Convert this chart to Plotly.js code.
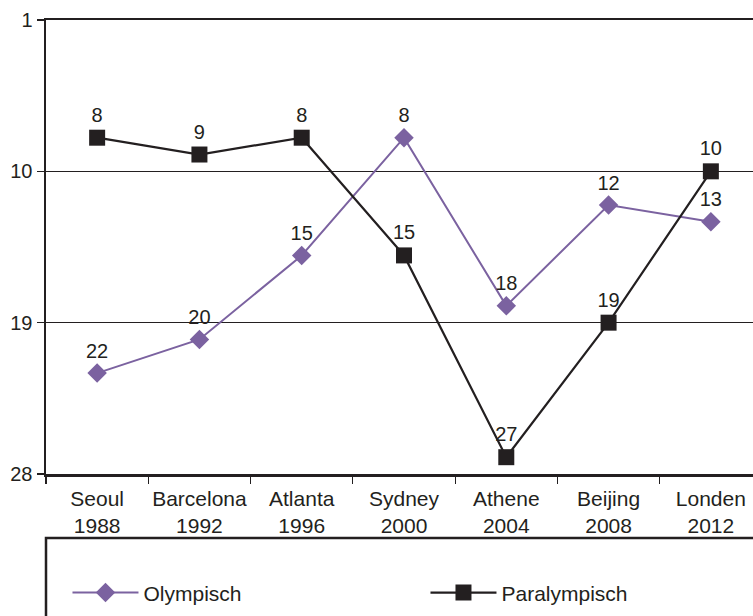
<!DOCTYPE html>
<html>
<head>
<meta charset="utf-8">
<script src="https://cdn.plot.ly/plotly-3.0.1.min.js"></script>
<style>
html,body{margin:0;padding:0;overflow:hidden;background:#fff;}
#chart{width:770px;height:616px;}
</style>
</head>
<body>
<div id="chart"></div>
<script>
const categories = ["Seoul<br>1988", "Barcelona<br>1992", "Atlanta<br>1996", "Sydney<br>2000", "Athene<br>2004", "Beijing<br>2008", "Londen<br>2012"];
const olympisch = [22, 20, 15, 8, 18, 12, 13];
const paralympisch = [8, 9, 8, 15, 27, 19, 10];
const yTicks = [1, 10, 19, 28];

const purple = "#7b62a0";
const dark = "#231f20";
const fontFam = "Liberation Sans, Arial, sans-serif";

const traces = [
  {
    x: categories, y: olympisch, name: "Olympisch", type: "scatter",
    mode: "lines+markers+text", legend: "legend",
    text: olympisch.map(String), textposition: "top center",
    textfont: {family: fontFam, size: 20, color: dark},
    line: {color: purple, width: 2},
    marker: {symbol: "diamond", size: 15, color: purple},
    cliponaxis: false
  },
  {
    x: categories, y: paralympisch, name: "Paralympisch", type: "scatter",
    mode: "lines+markers+text", legend: "legend2",
    text: paralympisch.map(String), textposition: "top center",
    textfont: {family: fontFam, size: 20, color: dark},
    line: {color: dark, width: 2.2},
    marker: {symbol: "square", size: 16, color: dark},
    cliponaxis: false
  }
];

const legendBase = {
  orientation: "h", xanchor: "left", yanchor: "middle", y: -0.262,
  itemwidth: 66,
  font: {family: fontFam, size: 21, color: dark},
  bgcolor: "rgba(0,0,0,0)", borderwidth: 0
};

const layout = {
  width: 770, height: 616,
  margin: {l: 46, r: 8, t: 20, b: 142, autoexpand: false},
  paper_bgcolor: "#fff", plot_bgcolor: "#fff",
  font: {family: fontFam, size: 20, color: dark},
  showlegend: true,
  legend: Object.assign({}, legendBase, {x: 0.03}),
  legend2: Object.assign({}, legendBase, {x: 0.53}),
  xaxis: {
    type: "category", automargin: false, showline: true, linecolor: dark, linewidth: 2.5,
    mirror: true, ticks: "outside", ticklen: 7, tickwidth: 1.2, tickcolor: dark,
    tickson: "boundaries", showgrid: false, zeroline: false, tickangle: 0,
    ticklabelstandoff: 4,
    tickfont: {family: fontFam, size: 21, color: dark},
    range: [-0.5, 6.5]
  },
  yaxis: {
    automargin: false,
    range: [28, 1], autorange: false,
    tickmode: "array", tickvals: yTicks, ticktext: yTicks.map(String),
    showline: true, linecolor: dark, linewidth: 2.5, mirror: false,
    ticks: "outside", ticklen: 7, tickwidth: 1.2, tickcolor: dark,
    showgrid: true, gridcolor: dark, gridwidth: 1.2, zeroline: false,
    tickfont: {family: fontFam, size: 20, color: dark}
  },
  shapes: [
    {type: "rect", xref: "paper", yref: "paper", x0: 0, x1: 1.2, y0: -0.141, y1: -0.6,
     line: {color: dark, width: 2.5}, fillcolor: "rgba(0,0,0,0)", layer: "below"}
  ]
};

Plotly.newPlot("chart", traces, layout, {displayModeBar: false, staticPlot: true});
</script>
</body>
</html>
